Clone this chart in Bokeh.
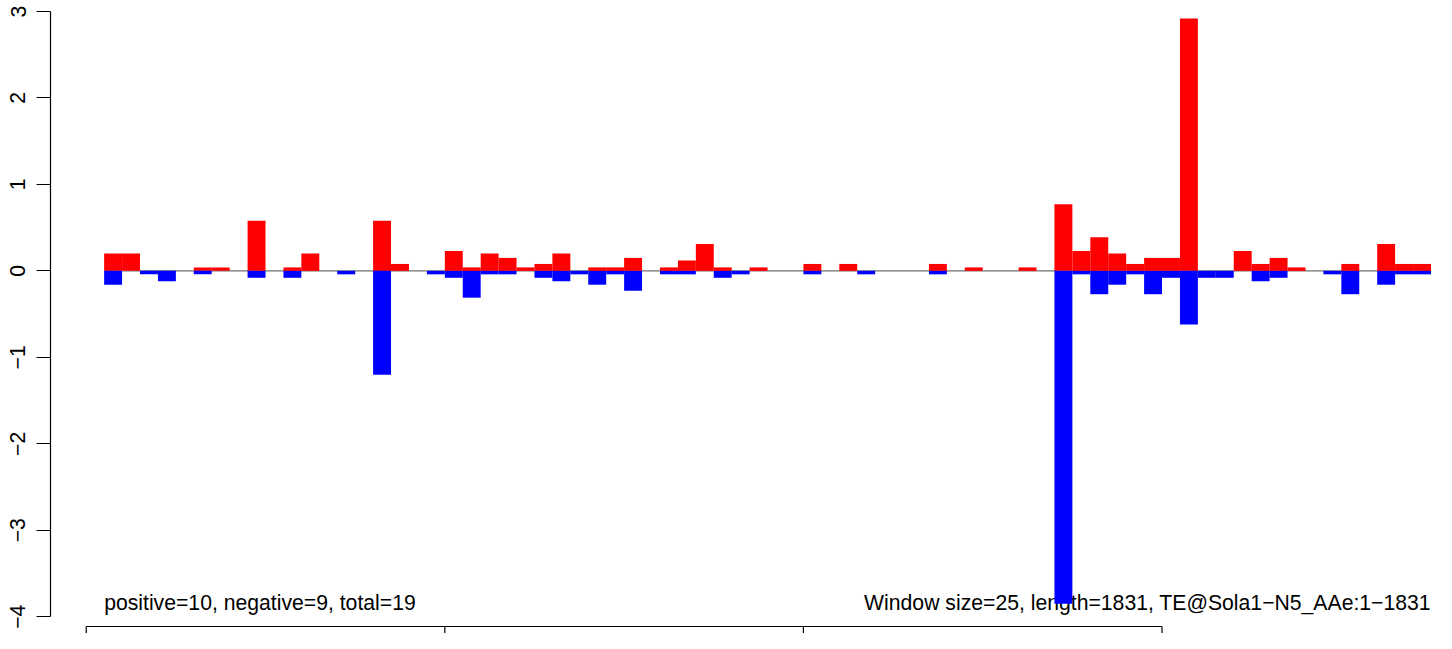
from bokeh.plotting import figure
from bokeh.models import Range1d, FixedTicker, ColumnDataSource
from bokeh.core.properties import value
from bokeh.embed import file_html
from bokeh.resources import INLINE

window_size = 25
positive = [0.20, 0.20, 0, 0, 0, 0.04, 0.04, 0, 0.58, 0,
            0.04, 0.20, 0, 0, 0, 0.58, 0.08, 0, 0, 0.23,
            0.04, 0.20, 0.15, 0.04, 0.08, 0.20, 0, 0.04, 0.04, 0.15,
            0, 0.04, 0.12, 0.31, 0.04, 0, 0.04, 0, 0, 0.08,
            0, 0.08, 0, 0, 0, 0, 0.08, 0, 0.04, 0,
            0, 0.04, 0, 0.77, 0.23, 0.39, 0.20, 0.08, 0.15, 0.15,
            2.92, 0, 0, 0.23, 0.08, 0.15, 0.04, 0, 0, 0.08,
            0, 0.31, 0.08, 0.08]
negative = [-0.16, 0, -0.04, -0.12, 0, -0.04, 0, 0, -0.08, 0,
            -0.08, 0, 0, -0.04, 0, -1.20, 0, 0, -0.04, -0.08,
            -0.31, -0.04, -0.04, 0, -0.08, -0.12, -0.04, -0.16, -0.04, -0.23,
            0, -0.04, -0.04, 0, -0.08, -0.04, 0, 0, 0, -0.04,
            0, 0, -0.04, 0, 0, 0, -0.04, 0, 0, 0,
            0, 0, 0, -3.85, -0.04, -0.27, -0.16, -0.04, -0.27, -0.08,
            -0.62, -0.08, -0.08, 0, -0.12, -0.08, 0, 0, -0.04, -0.27,
            0, -0.16, -0.04, -0.04]
starts = [window_size * (i + 1) for i in range(len(positive))]
ends = [s + window_size for s in starts]

y_ticks = [-4, -3, -2, -1, 0, 1, 2, 3]
x_ticks = [0, 500, 1000, 1500]
left_note = "positive=10, negative=9, total=19"
right_note = "Window size=25, length=1831, TE@Sola1\u2212N5_AAe:1\u22121831"
note_y = -3.84

FONT = "Liberation Sans"
FONT_SIZE = "21.2px"
Y0, Y1 = -4.194, 3.127          # frame y extent
X0, X1 = -49.8, 1882.7          # frame x extent
X_AXIS_Y = -4.113               # where the bottom axis line sits

p = figure(width=1436, height=633, output_backend="svg", toolbar_location=None,
           x_range=Range1d(X0, X1), y_range=Range1d(Y0, Y1),
           x_axis_location=None,
           min_border_left=50, min_border_right=0, min_border_top=0,
           min_border_bottom=0)
p.xgrid.visible = False
p.ygrid.visible = False
p.outline_line_color = None
p.background_fill_color = "white"
p.border_fill_color = "white"

# y axis (R style: line only over tick range, labels rotated)
ya = p.yaxis[0]
ya.ticker = FixedTicker(ticks=y_ticks)
ya.bounds = (min(y_ticks), max(y_ticks))
ya.major_label_overrides = {t: str(t).replace("-", "\u2212") for t in y_ticks}
ya.major_label_orientation = "vertical"
ya.major_label_text_font = FONT
ya.major_label_text_font_size = FONT_SIZE
ya.major_label_text_color = "black"
ya.major_label_standoff = 11
ya.major_tick_out = 14
ya.major_tick_in = 0
ya.minor_tick_out = 0
ya.minor_tick_in = 0
ya.axis_line_color = "black"
ya.axis_line_width = 1.2
ya.major_tick_line_color = "black"
ya.major_tick_line_width = 1.2

# bottom axis drawn as line + ticks (its labels lie outside the picture)
p.segment(x0=[min(x_ticks)], y0=[X_AXIS_Y], x1=[max(x_ticks)], y1=[X_AXIS_Y],
          line_color="black", line_width=1.2)
p.segment(x0=x_ticks, y0=[X_AXIS_Y] * len(x_ticks), x1=x_ticks,
          y1=[Y0] * len(x_ticks), line_color="black", line_width=1.2)

# baseline
p.line(x=[starts[0], ends[-1]], y=[0, 0], line_color="#707070", line_width=1.2)

# notes
p.text(x=[starts[0]], y=[note_y], text=[left_note], text_font=value(FONT),
       text_font_size=FONT_SIZE, text_color="black", text_align="left",
       text_baseline="alphabetic")
p.text(x=[ends[-1]], y=[note_y], text=[right_note], text_font=value(FONT),
       text_font_size=FONT_SIZE, text_color="black", text_align="right",
       text_baseline="alphabetic")

src = ColumnDataSource(dict(left=starts, right=ends, pos=positive, neg=negative,
                            zero=[0] * len(starts)))
p.quad(left="left", right="right", bottom="zero", top="pos", source=src,
       fill_color="#FF0000", line_color=None)
p.quad(left="left", right="right", bottom="neg", top="zero", source=src,
       fill_color="#0000FF", line_color=None)

open("out.html", "w").write(file_html(p, INLINE))
